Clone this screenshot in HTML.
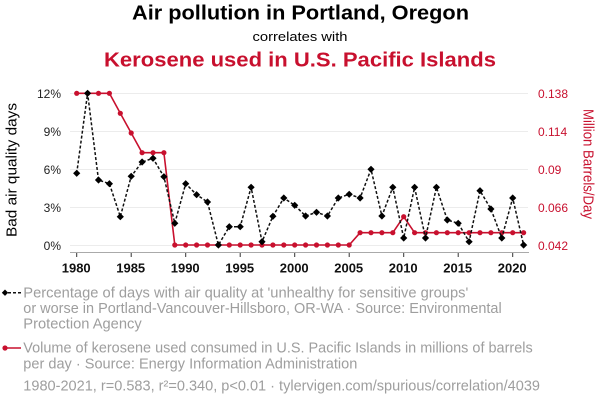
<!DOCTYPE html>
<html><head><meta charset="utf-8"><style>
html,body{margin:0;padding:0;background:#fff;}
svg{display:block;font-family:"Liberation Sans",Arial,sans-serif;}
</style></head><body>
<svg width="600" height="408" viewBox="0 0 600 408" xmlns="http://www.w3.org/2000/svg">
<defs>
<marker id="dia" markerUnits="userSpaceOnUse" markerWidth="8" markerHeight="8" refX="4" refY="4" overflow="visible">
<path d="M4,0.4 L7.6,4 L4,7.6 L0.4,4 Z" fill="#000" stroke="none"/>
</marker>
<marker id="dot" markerUnits="userSpaceOnUse" markerWidth="8" markerHeight="8" refX="4" refY="4" overflow="visible">
<circle cx="4" cy="4" r="2.6" fill="#c8102e" stroke="none"/>
</marker>
</defs>
<!-- titles -->
<text x="300.5" y="19.5" text-anchor="middle" font-size="20" font-weight="bold" fill="#000" textLength="337" lengthAdjust="spacingAndGlyphs">Air pollution in Portland, Oregon</text>
<text x="300" y="41" text-anchor="middle" font-size="13" fill="#000" textLength="95" lengthAdjust="spacingAndGlyphs">correlates with</text>
<text x="300" y="66.5" text-anchor="middle" font-size="20" font-weight="bold" fill="#c8102e" textLength="392" lengthAdjust="spacingAndGlyphs">Kerosene used in U.S. Pacific Islands</text>
<!-- gridlines -->
<g stroke="#ececec" stroke-width="1">
<line x1="70" x2="528" y1="93.5" y2="93.5"/>
<line x1="70" x2="528" y1="131.5" y2="131.5"/>
<line x1="70" x2="528" y1="169.5" y2="169.5"/>
<line x1="70" x2="528" y1="207.5" y2="207.5"/>
<line x1="70" x2="528" y1="245.5" y2="245.5"/>
</g>
<!-- x axis -->
<line x1="70" x2="529" y1="252.5" y2="252.5" stroke="#aaa" stroke-width="1"/>
<g stroke="#333" stroke-width="1">
<line x1="76.7" x2="76.7" y1="253" y2="257"/>
<line x1="131.2" x2="131.2" y1="253" y2="257"/>
<line x1="185.7" x2="185.7" y1="253" y2="257"/>
<line x1="240.2" x2="240.2" y1="253" y2="257"/>
<line x1="294.7" x2="294.7" y1="253" y2="257"/>
<line x1="349.2" x2="349.2" y1="253" y2="257"/>
<line x1="403.7" x2="403.7" y1="253" y2="257"/>
<line x1="458.2" x2="458.2" y1="253" y2="257"/>
<line x1="512.7" x2="512.7" y1="253" y2="257"/>
</g>
<g font-size="13" font-weight="bold" fill="#111" text-anchor="middle">
<text x="76.2" y="272.7">1980</text>
<text x="130.7" y="272.7">1985</text>
<text x="185.2" y="272.7">1990</text>
<text x="239.7" y="272.7">1995</text>
<text x="294.2" y="272.7">2000</text>
<text x="348.7" y="272.7">2005</text>
<text x="403.2" y="272.7">2010</text>
<text x="457.7" y="272.7">2015</text>
<text x="512.2" y="272.7">2020</text>
</g>
<!-- left ticks -->
<g font-size="12" fill="#222" text-anchor="end">
<text x="61" y="98">12%</text>
<text x="61" y="136">9%</text>
<text x="61" y="174">6%</text>
<text x="61" y="212">3%</text>
<text x="61" y="250">0%</text>
</g>
<!-- right ticks -->
<g font-size="12" fill="#c8102e" text-anchor="start">
<text x="538" y="98">0.138</text>
<text x="538" y="136">0.114</text>
<text x="538" y="174">0.09</text>
<text x="538" y="212">0.066</text>
<text x="538" y="250">0.042</text>
</g>
<!-- axis titles -->
<text transform="translate(16.7,170) rotate(-90)" text-anchor="middle" font-size="14.5" fill="#000" textLength="134" lengthAdjust="spacingAndGlyphs">Bad air quality days</text>
<text transform="translate(583.5,164) rotate(90)" text-anchor="middle" font-size="14.5" fill="#c8102e" textLength="110" lengthAdjust="spacingAndGlyphs">Million Barrels/Day</text>
<!-- red series -->
<polyline fill="none" stroke="#c8102e" stroke-width="1.6" stroke-linejoin="round" marker-start="url(#dot)" marker-mid="url(#dot)" marker-end="url(#dot)"
points="76.7,93.3 87.6,93.3 98.5,93.3 109.4,93.3 120.3,113.3 131.2,133 142.1,152.7 153.0,152.7 163.9,152.7 174.8,245 185.7,245 196.6,245 207.5,245 218.4,245 229.3,245 240.2,245 251.1,245 262.0,245 272.9,245 283.8,245 294.7,245 305.6,245 316.5,245 327.4,245 338.3,245 349.2,245 360.1,232.7 371.0,232.7 381.9,232.7 392.8,232.7 403.7,216.7 414.6,232.7 425.5,232.7 436.4,232.7 447.3,232.7 458.2,232.7 469.1,232.7 480.0,232.7 490.9,232.7 501.8,232.7 512.7,232.7 523.6,232.7"/>
<!-- black series -->
<polyline fill="none" stroke="#111" stroke-width="1.5" stroke-dasharray="3,2" marker-start="url(#dia)" marker-mid="url(#dia)" marker-end="url(#dia)"
points="76.7,173.3 87.6,93.3 98.5,180 109.4,183.7 120.3,216.7 131.2,176.3 142.1,162 153.0,158.3 163.9,176.7 174.8,223.3 185.7,183.7 196.6,194.7 207.5,202 218.4,245 229.3,226.7 240.2,226.7 251.1,187.3 262.0,241.7 272.9,216.3 283.8,198 294.7,205.3 305.6,216 316.5,212.3 327.4,216 338.3,198 349.2,194.3 360.1,198 371.0,169.3 381.9,216 392.8,187.3 403.7,238 414.6,187.3 425.5,238 436.4,187.3 447.3,220 458.2,223.3 469.1,241.7 480.0,190.7 490.9,209 501.8,238 512.7,198 523.6,245"/>
<!-- legend -->
<line x1="3" x2="21" y1="292.7" y2="292.7" stroke="#111" stroke-width="1.5" stroke-dasharray="3,2"/>
<path d="M5,289.5 L8.2,292.7 L5,295.9 L1.8,292.7 Z" fill="#000"/>
<g font-size="14.5" fill="#9e9e9e">
<text x="23.3" y="297.3" textLength="445" lengthAdjust="spacingAndGlyphs">Percentage of days with air quality at 'unhealthy for sensitive groups'</text>
<text x="23.3" y="312.8" textLength="478.4" lengthAdjust="spacingAndGlyphs">or worse in Portland-Vancouver-Hillsboro, OR-WA · Source: Environmental</text>
<text x="23.3" y="328.3" textLength="118.4" lengthAdjust="spacingAndGlyphs">Protection Agency</text>
<text x="23.3" y="352.7" textLength="509.4" lengthAdjust="spacingAndGlyphs">Volume of kerosene used consumed in U.S. Pacific Islands in millions of barrels</text>
<text x="23.3" y="368.5" textLength="334" lengthAdjust="spacingAndGlyphs">per day · Source: Energy Information Administration</text>
<text x="23.3" y="390.7" textLength="516.7" lengthAdjust="spacingAndGlyphs">1980-2021, r=0.583, r²=0.340, p&lt;0.01 · tylervigen.com/spurious/correlation/4039</text>
</g>
<line x1="3" x2="21" y1="348" y2="348" stroke="#c8102e" stroke-width="1.6"/>
<circle cx="5" cy="348" r="2.6" fill="#c8102e"/>
</svg>
</body></html>
